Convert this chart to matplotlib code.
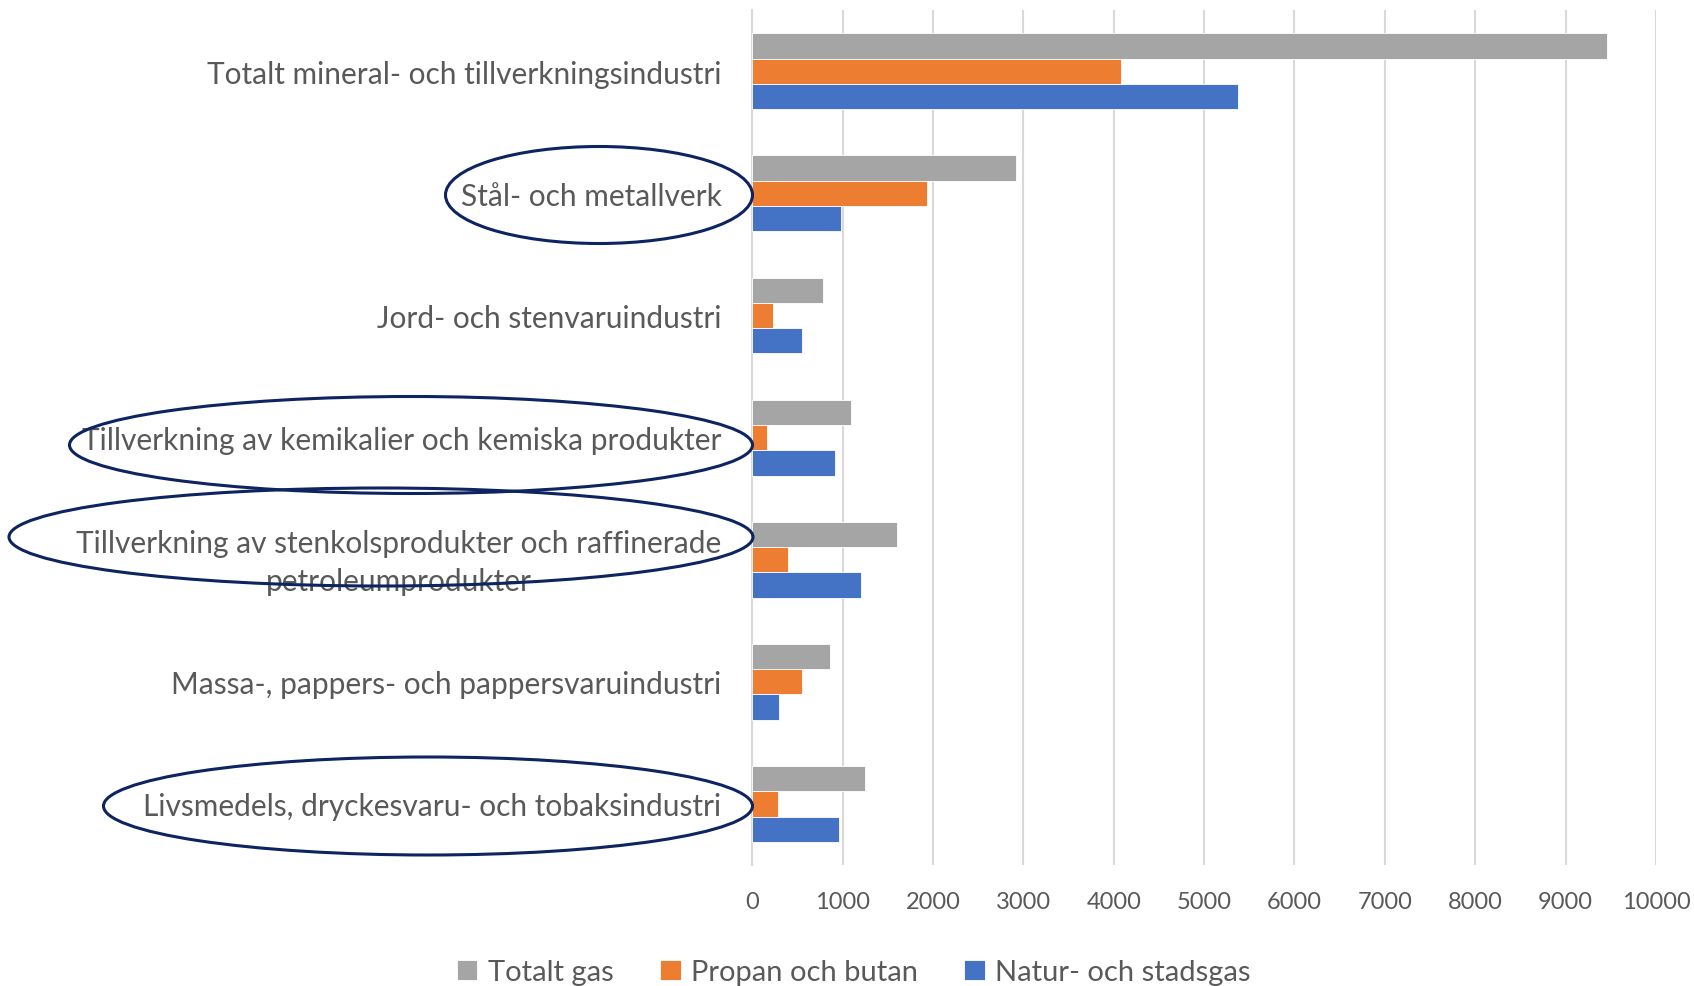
import numpy as np
import matplotlib
matplotlib.use("Agg")
import matplotlib.pyplot as plt
import matplotlib.transforms as mtransforms
from matplotlib.patches import Ellipse

plt.rcParams["font.family"] = ["Lato", "DejaVu Sans"]

categories = [
    "Totalt mineral- och tillverkningsindustri",
    "Stål- och metallverk",
    "Jord- och stenvaruindustri",
    "Tillverkning av kemikalier och kemiska produkter",
    "Tillverkning av stenkolsprodukter och raffinerade\npetroleumprodukter",
    "Massa-, pappers- och pappersvaruindustri",
    "Livsmedels, dryckesvaru- och tobaksindustri",
]
totalt_gas = [9456, 2921, 781, 1090, 1606, 866, 1249]
propan_butan = [4086, 1934, 228, 169, 398, 556, 287]
natur_stadsgas = [5370, 983, 549, 921, 1201, 302, 961]
x_ticks = list(range(0, 10001, 1000))

TEXT = "#595959"
fig = plt.figure(figsize=(16.94, 9.87), dpi=100)
ax = fig.add_axes([0.444, 0.1226, 0.5336, 0.866])

y = np.arange(len(categories))
h = 0.207
ax.barh(y - h, totalt_gas, height=h, color="#A5A5A5", edgecolor="white", linewidth=0.6, label="Totalt gas", zorder=3)
ax.barh(y, propan_butan, height=h, color="#ED7D31", edgecolor="white", linewidth=0.6, label="Propan och butan", zorder=3)
ax.barh(y + h, natur_stadsgas, height=h, color="#4472C4", edgecolor="white", linewidth=0.6, label="Natur- och stadsgas", zorder=3)

ax.set_ylim(len(categories) - 0.5, -0.5)
ax.set_xlim(0, 10000)
ax.set_xticks(x_ticks)
ax.set_xticklabels([str(t) for t in x_ticks], fontsize=17, color=TEXT)
ax.set_yticks(y)
ax.set_yticklabels(categories, fontsize=21.5, color=TEXT, multialignment="center", linespacing=1.45)
ax.tick_params(axis="y", length=0, pad=22)
ax.tick_params(axis="x", length=0, pad=19)
ax.grid(axis="x", color="#D9D9D9", linewidth=1.5, zorder=0)
for s in ["top", "right", "bottom"]:
    ax.spines[s].set_visible(False)
ax.spines["left"].set_color("#D9D9D9")
ax.spines["left"].set_linewidth(1.5)

# the two-line label sits a little higher in the original
lbl = ax.get_yticklabels()[4]
lbl.set_transform(lbl.get_transform() + mtransforms.ScaledTranslation(0, 4 / 72, fig.dpi_scale_trans))

fig.legend(loc="center", bbox_to_anchor=(0.504, 0.014), ncol=3, frameon=False,
           fontsize=21, labelcolor=TEXT, handlelength=0.7, handleheight=0.7,
           handletextpad=0.35, columnspacing=1.6)

# hand-drawn highlight ellipses (pixel centre x, centre y, width, height)
W, H = 1694, 987
for cx, cy, ew, eh in [(599, 196, 307, 97), (411, 446, 683, 97),
                       (381, 538, 744, 98), (428, 807, 649, 98)]:
    fig.patches.append(Ellipse((cx / W, 1 - cy / H), ew / W, eh / H,
                               transform=fig.transFigure, fill=False,
                               edgecolor="#0D2461", linewidth=2.2, zorder=10))

fig.savefig("out.png", dpi=100)
